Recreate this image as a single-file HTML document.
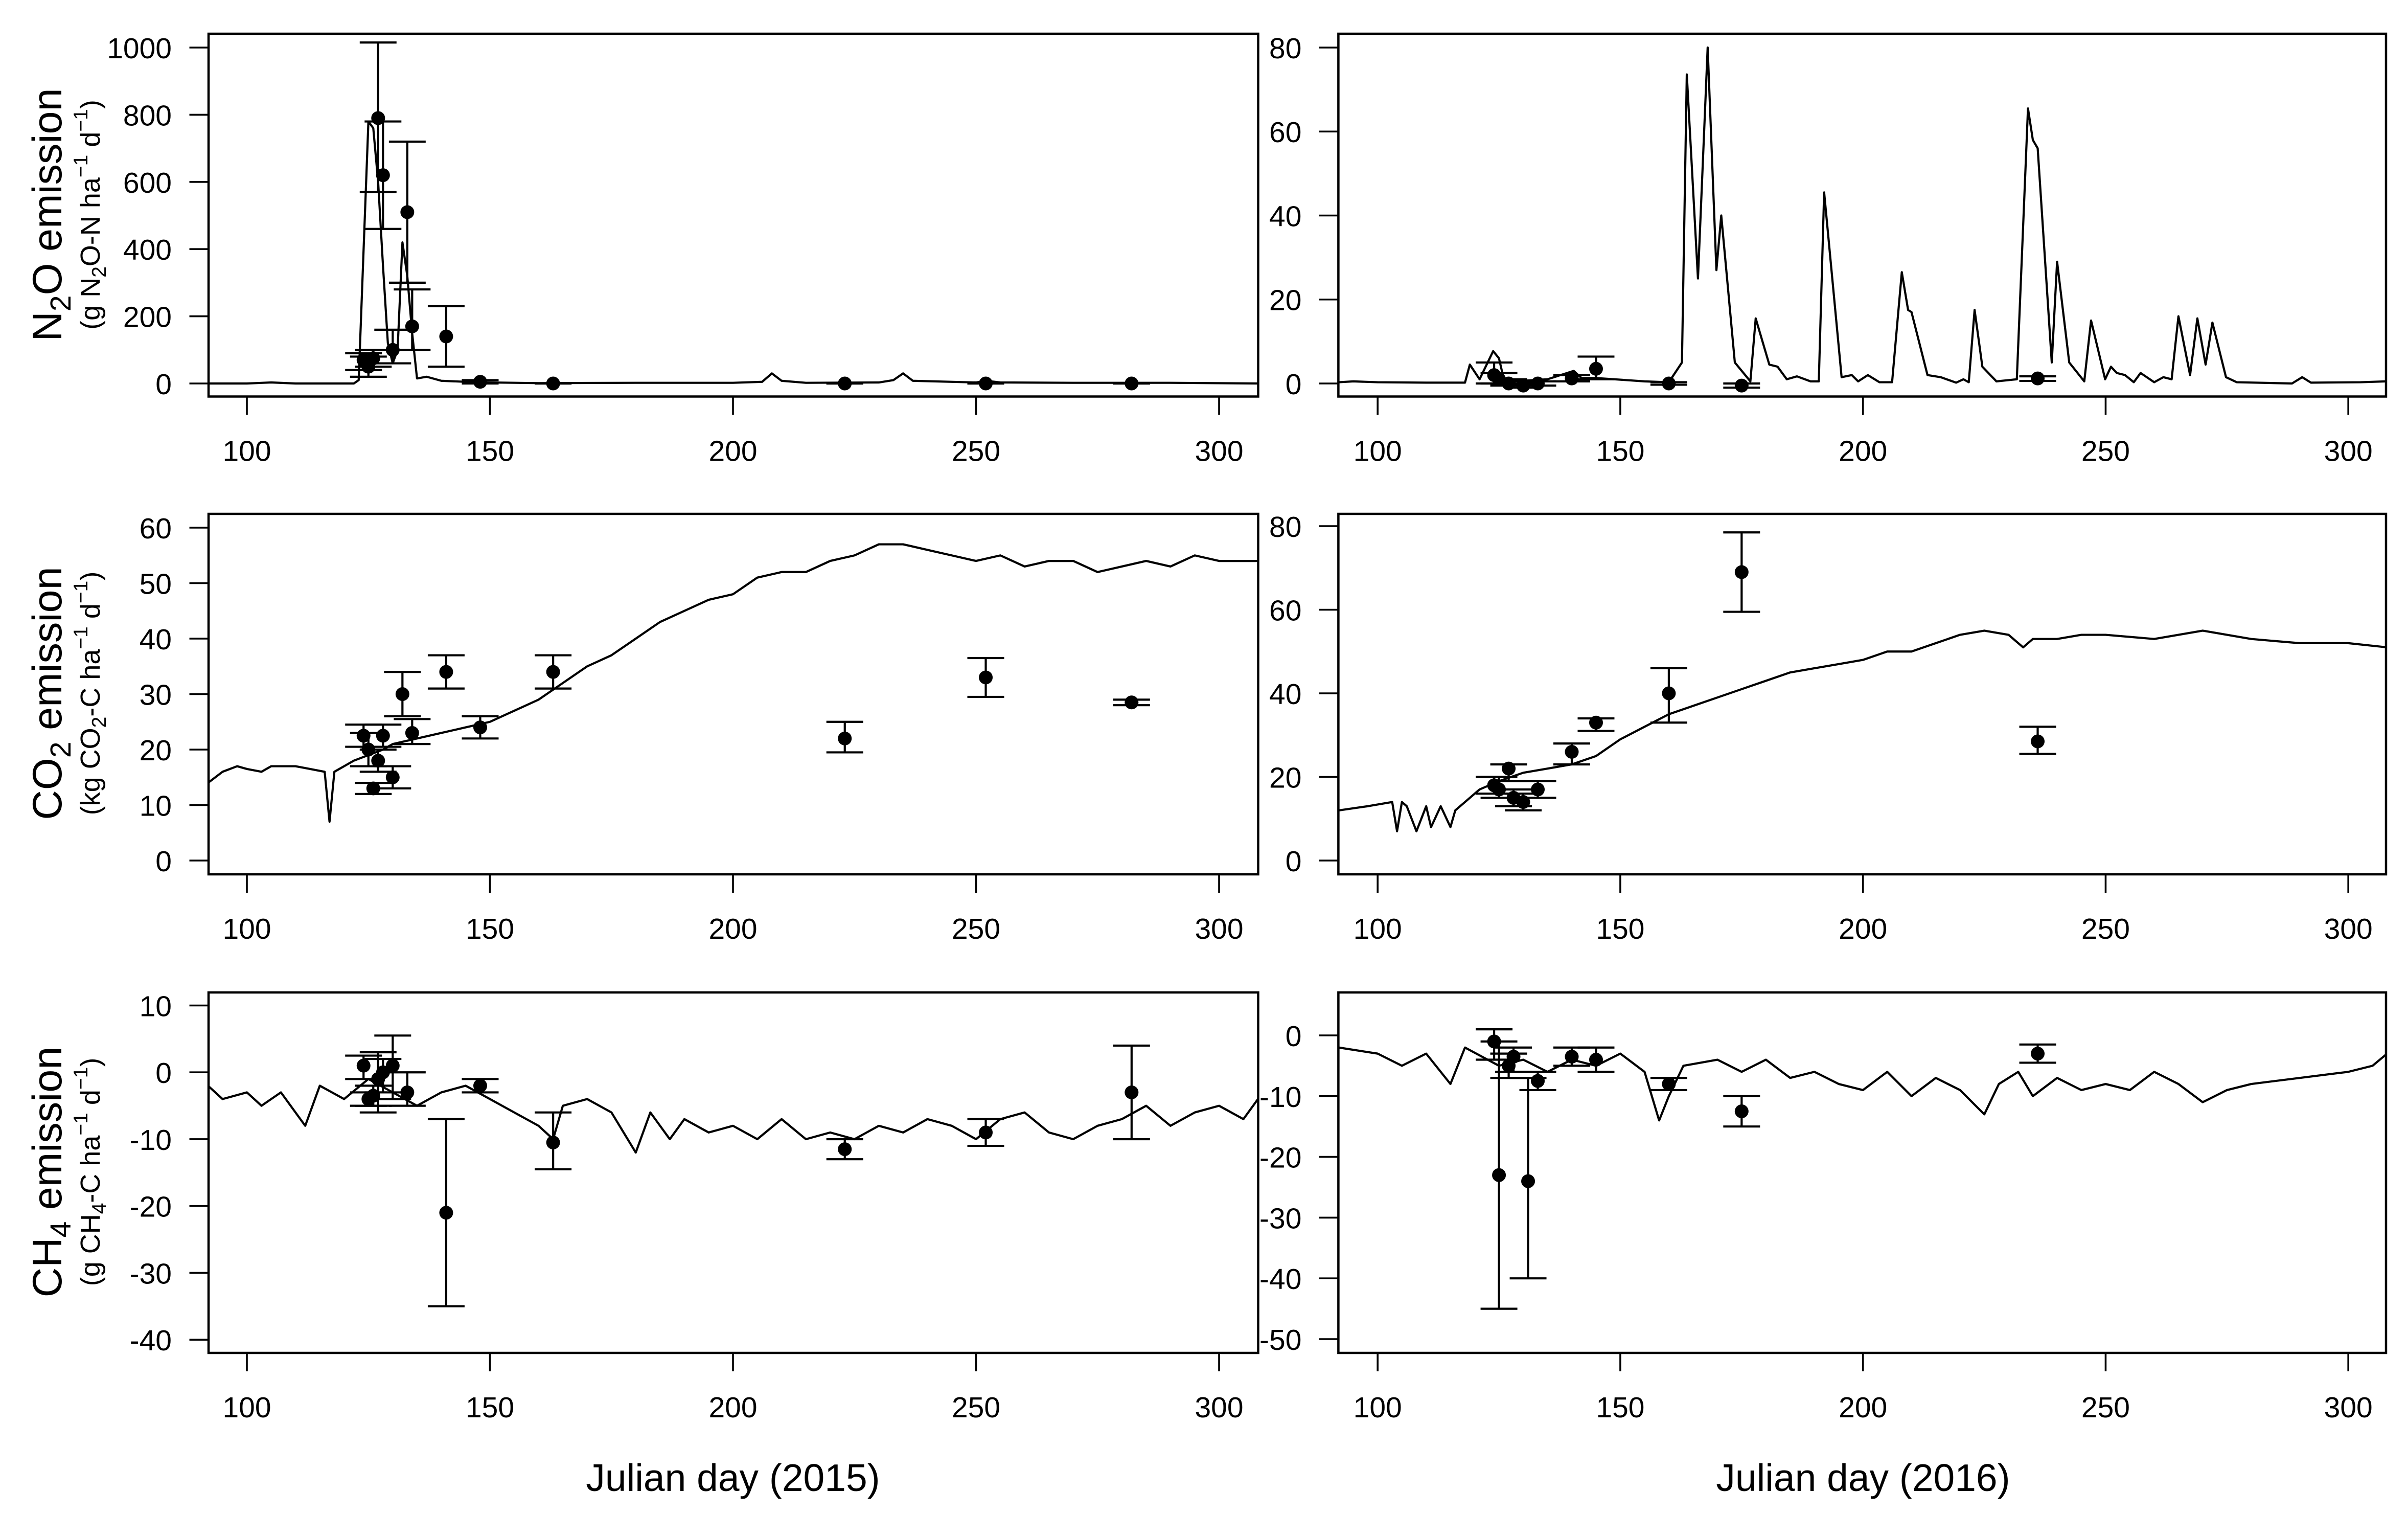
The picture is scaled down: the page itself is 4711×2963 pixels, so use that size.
<!DOCTYPE html>
<html><head><meta charset="utf-8"><style>
html,body{margin:0;padding:0;background:#fff;}
svg{display:block;font-family:"Liberation Sans",Arial,sans-serif;}
</style></head><body>
<svg id="chart" width="4711" height="2963" viewBox="0 0 1570.33 987.67" xmlns="http://www.w3.org/2000/svg">
<rect x="0" y="0" width="1570.33" height="987.67" fill="#fff"/>
<text x="478" y="972" font-size="25" text-anchor="middle">Julian day (2015)</text>
<text x="1215" y="972" font-size="25" text-anchor="middle">Julian day (2016)</text>
<g transform="translate(40,140) rotate(-90)"><text font-size="27" text-anchor="middle">N<tspan font-size="19" dy="6">2</tspan><tspan dy="-6">O emission</tspan></text><text y="25" font-size="18" text-anchor="middle">(g N<tspan font-size="13" dy="4">2</tspan><tspan dy="-4">O-N  ha</tspan><tspan font-size="13" dy="-8">−1</tspan><tspan dy="8">  d</tspan><tspan font-size="13" dy="-8">−1</tspan><tspan dy="8">)</tspan></text></g>
<g transform="translate(40,452) rotate(-90)"><text font-size="27" text-anchor="middle">CO<tspan font-size="19" dy="6">2</tspan><tspan dy="-6"> emission</tspan></text><text y="25" font-size="18" text-anchor="middle">(kg CO<tspan font-size="13" dy="4">2</tspan><tspan dy="-4">-C ha</tspan><tspan font-size="13" dy="-8">−1</tspan><tspan dy="8">  d</tspan><tspan font-size="13" dy="-8">−1</tspan><tspan dy="8">)</tspan></text></g>
<g transform="translate(40,764) rotate(-90)"><text font-size="27" text-anchor="middle">CH<tspan font-size="19" dy="6">4</tspan><tspan dy="-6"> emission</tspan></text><text y="25" font-size="18" text-anchor="middle">(g CH<tspan font-size="13" dy="4">4</tspan><tspan dy="-4">-C  ha</tspan><tspan font-size="13" dy="-8">−1</tspan><tspan dy="8">  d</tspan><tspan font-size="13" dy="-8">−1</tspan><tspan dy="8">)</tspan></text></g>
</svg>
<script>
// ---- data ----
const n2o2015Days=[92,100,105,110,122,123,125,126,127,128,129,130,131,132,133,134,135,137,140,145,150,160,180,200,206,208,210,215,230,233,235,237,250,252,255,270,290,308];
const n2o2015Vals=[0,0,3,0,0,10,780,760,600,350,120,60,100,420,320,150,15,20,8,5,3,1,2,2,5,30,8,2,3,10,30,8,3,8,3,2,2,0];
const n2o2016Days=[92,95,100,110,118,119,121,123.8,125,126,128,135,140.4,142,145,155,160,162.7,163.7,166,168,169.8,170.8,173.6,176.8,177.9,180.7,182.4,184.3,186.4,189.2,190.9,192,195.6,197.7,199,201,203.4,206,208,209.3,210,213.3,216,219.2,220.7,221.8,223,224.6,227.5,231.7,234,235,236,238.9,240,242.5,245.6,247,249.9,251.1,252.3,254,255.8,257.2,260,261.9,263.6,265,267.4,268.9,270.6,272,274.8,277,288.4,290.5,292.3,302.5,307.8];
const n2o2016Vals=[0.3,0.5,0.3,0.2,0.2,4.5,1,7.7,6,1,0.5,1,3,1.3,1.3,0.5,0.3,5,73.6,25,80,27,40,5,0.5,15.5,4.5,4,1,1.7,0.5,0.5,45.5,1.5,2,0.5,2,0.3,0.3,26.5,17.5,17,2,1.5,0.2,1,0.3,17.5,4,0.5,1,65.5,58,56,5,29,5,0.5,15,1,4,2.5,2,0.3,2.5,0.3,1.5,1,16,2,15.5,4.5,14.5,1.5,0.3,0,1.5,0.2,0.3,0.5];
const co22015Days=[92,95,98,100,103,105,110,113,116,117,118,120,122,125,128,130,135,140,145,150,155,160,165,170,175,180,185,190,195,200,205,210,215,220,225,230,235,240,245,250,255,260,265,270,275,280,285,290,295,300,305,308];
const co22015Vals=[14,16,17,16.5,16,17,17,16.5,16,7,16,17,18,19,20,21,22,23,24,25,27,29,32,35,37,40,43,45,47,48,51,52,52,54,55,57,57,56,55,54,55,53,54,54,52,53,54,53,55,54,54,54];
const co22016Days=[92,98,103,104,105,106,108,110,111,113,115,116,118,121,125,130,135,140,145,150,155,160,165,170,175,180,185,190,195,200,205,210,215,220,225,230,233,235,240,245,250,260,270,280,290,300,308];
const co22016Vals=[12,13,14,7,14,13,7,13,8,13,8,12,14,17,19,21,22,23,25,29,32,35,37,39,41,43,45,46,47,48,50,50,52,54,55,54,51,53,53,54,54,53,55,53,52,52,51];
const ch42015Days=[92,95,100,103,107,112,115,120,125,130,135,140,145,150,155,160,163,165,170,175,180,183,187,190,195,200,205,210,215,220,225,230,235,240,245,250,255,260,265,270,275,280,285,290,295,300,305,308];
const ch42015Vals=[-2,-4,-3,-5,-3,-8,-2,-4,-1,-3,-5,-3,-2,-4,-6,-8,-10,-5,-4,-6,-12,-6,-10,-7,-9,-8,-10,-7,-10,-9,-10,-8,-9,-7,-8,-10,-7,-6,-9,-10,-8,-7,-5,-8,-6,-5,-7,-4];
const ch42016Days=[92,100,105,110,115,118,125,130,135,140,145,150,155,158,160,163,170,175,180,185,190,195,200,205,210,215,220,225,228,232,235,240,245,250,255,260,265,270,275,280,290,300,305,308];
const ch42016Vals=[-2,-3,-5,-3,-8,-2,-5,-4,-6,-4,-5,-3,-6,-14,-10,-5,-4,-6,-4,-7,-6,-8,-9,-6,-10,-7,-9,-13,-8,-6,-10,-7,-9,-8,-9,-6,-8,-11,-9,-8,-7,-6,-5,-3];
// observations: day, mean, lower, upper
const obsN2o2015Day=[124,125,126,127,128,130,133,134,141,148,163,223,252,282];
const obsN2o2015Mean=[70,50,75,790,620,100,510,170,140,5,0,0,0,0];
const obsN2o2015Lo=[40,20,50,570,460,60,300,100,50,0,0,0,0,0];
const obsN2o2015Hi=[90,80,100,1015,780,160,720,280,230,10,0,0,0,0];
const obsN2o2016Day=[124,125,127,130,133,140,145,160,175,236];
const obsN2o2016Mean=[2,1,0,-0.5,0,1.2,3.5,0,-0.5,1.2];
const obsN2o2016Lo=[0,0,-0.5,-1,-0.5,0.5,1,-0.3,-1,0.6];
const obsN2o2016Hi=[5,2.5,1,0,0.5,2,6.4,0.3,0,1.7];
const obsCo22015Day=[124,125,126,127,128,130,132,134,141,148,163,223,252,282];
const obsCo22015Mean=[22.5,20,13,18,22.5,15,30,23,34,24,34,22,33,28.5];
const obsCo22015Lo=[20.5,17,12,16,20.5,13,26,21,31,22,31,19.5,29.5,28];
const obsCo22015Hi=[24.5,23,14,20,24.5,17,34,25.5,37,26,37,25,36.5,29];
const obsCo22016Day=[124,125,127,128,130,133,140,145,160,175,236];
const obsCo22016Mean=[18,17,22,15,14,17,26,33,40,69,28.5];
const obsCo22016Lo=[16,15,19,13,12,15,23,31,33,59.5,25.5];
const obsCo22016Hi=[20,20,23,17,16,19,28,34,46,78.5,32];
const obsCh42015Day=[124,125,126,127,128,130,133,141,148,163,223,252,282];
const obsCh42015Mean=[1,-4,-3.5,-1,0,1,-3,-21,-2,-10.5,-11.5,-9,-3];
const obsCh42015Lo=[-1,-5,-5,-6,-3,-4,-5,-35,-3,-14.5,-13,-11,-10];
const obsCh42015Hi=[2.5,-3,-2,3,2,5.5,0,-7,-1,-6,-10,-7,4];
const obsCh42016Day=[124,125,127,128,131,133,140,145,160,175,236];
const obsCh42016Mean=[-1,-23,-5,-3.5,-24,-7.5,-3.5,-4,-8,-12.5,-3];
const obsCh42016Lo=[-4,-45,-7,-6,-40,-9,-5,-6,-9,-15,-4.5];
const obsCh42016Hi=[1,-1,-3,-2,-7,-6,-2,-2,-7,-10,-1.5];
const xTicks=[100,150,200,250,300];
const yTicksN2o2015=[0,200,400,600,800,1000];
const yTicksN2o2016=[0,20,40,60,80];
const yTicksCo22015=[0,10,20,30,40,50,60];
const yTicksCo22016=[0,20,40,60,80];
const yTicksCh42015=[10,0,-10,-20,-30,-40];
const yTicksCh42016=[0,-10,-20,-30,-40,-50];

const NS='http://www.w3.org/2000/svg';
const svg=document.getElementById('chart');
function mk(tag,attrs,parent){const e=document.createElementNS(NS,tag);for(const k in attrs)e.setAttribute(k,attrs[k]);(parent||svg).appendChild(e);return e;}

const panels=[
 {id:'n2o-2015',x0:136,x1:820.5,y0:22,y1:258.5,dx0:100,px0:161,dx1:300,px1:795,v0:0,py0:250,v1:1000,py1:31,ticks:yTicksN2o2015,ld:n2o2015Days,lv:n2o2015Vals,od:obsN2o2015Day,om:obsN2o2015Mean,ol:obsN2o2015Lo,oh:obsN2o2015Hi},
 {id:'n2o-2016',x0:872.8,x1:1556,y0:22,y1:258.5,dx0:100,px0:898.4,dx1:300,px1:1531.4,v0:0,py0:250,v1:80,py1:31,ticks:yTicksN2o2016,ld:n2o2016Days,lv:n2o2016Vals,od:obsN2o2016Day,om:obsN2o2016Mean,ol:obsN2o2016Lo,oh:obsN2o2016Hi},
 {id:'co2-2015',x0:136,x1:820.5,y0:335,y1:570,dx0:100,px0:161,dx1:300,px1:795,v0:0,py0:561,v1:60,py1:344,ticks:yTicksCo22015,ld:co22015Days,lv:co22015Vals,od:obsCo22015Day,om:obsCo22015Mean,ol:obsCo22015Lo,oh:obsCo22015Hi},
 {id:'co2-2016',x0:872.8,x1:1556,y0:335,y1:570,dx0:100,px0:898.4,dx1:300,px1:1531.4,v0:0,py0:561,v1:80,py1:343,ticks:yTicksCo22016,ld:co22016Days,lv:co22016Vals,od:obsCo22016Day,om:obsCo22016Mean,ol:obsCo22016Lo,oh:obsCo22016Hi},
 {id:'ch4-2015',x0:136,x1:820.5,y0:647,y1:882,dx0:100,px0:161,dx1:300,px1:795,v0:10,py0:655.5,v1:-40,py1:873.4,ticks:yTicksCh42015,ld:ch42015Days,lv:ch42015Vals,od:obsCh42015Day,om:obsCh42015Mean,ol:obsCh42015Lo,oh:obsCh42015Hi},
 {id:'ch4-2016',x0:872.8,x1:1556,y0:647,y1:882,dx0:100,px0:898.4,dx1:300,px1:1531.4,v0:0,py0:675,v1:-50,py1:873,ticks:yTicksCh42016,ld:ch42016Days,lv:ch42016Vals,od:obsCh42016Day,om:obsCh42016Mean,ol:obsCh42016Lo,oh:obsCh42016Hi}
];

panels.forEach(p=>{
 const X=d=>p.px0+(d-p.dx0)*(p.px1-p.px0)/(p.dx1-p.dx0);
 const Y=v=>p.py0+(v-p.v0)*(p.py1-p.py0)/(p.v1-p.v0);
 const g=mk('g',{});
 
 
 const cp=mk('clipPath',{id:'clip-'+p.id},g);
 mk('rect',{x:p.x0,y:p.y0,width:p.x1-p.x0,height:p.y1-p.y0},cp);
 // model line
 const d=p.ld.map((dd,i)=>(i?'L':'M')+X(dd).toFixed(2)+','+Y(p.lv[i]).toFixed(2)).join(' ');
 const line=mk('path',{d:d,fill:'none',stroke:'#000','stroke-width':1.4,'stroke-linejoin':'round','clip-path':'url(#clip-'+p.id+')'},g);
 
 
 // observations
 p.od.forEach((dd,i)=>{
  const og=mk('g',{stroke:'#000','stroke-width':1.4,fill:'#000'},g);
  
  
  const x=X(dd),lo=Y(p.ol[i]),hi=Y(p.oh[i]);
  mk('line',{x1:x,x2:x,y1:lo,y2:hi},og);
  mk('line',{x1:x-12,x2:x+12,y1:lo,y2:lo},og);
  mk('line',{x1:x-12,x2:x+12,y1:hi,y2:hi},og);
  mk('circle',{cx:x,cy:Y(p.om[i]),r:4.5,stroke:'none'},og);
 });
 // box
 const box=mk('rect',{x:p.x0,y:p.y0,width:p.x1-p.x0,height:p.y1-p.y0,fill:'none',stroke:'#000','stroke-width':1.5},g);
 
 
 // x axis
 const xa=mk('g',{},g);
 
 
 xTicks.forEach(t=>{
  const x=X(t);
  mk('line',{x1:x,x2:x,y1:p.y1,y2:p.y1+12,stroke:'#000','stroke-width':1.2},xa);
  const tx=mk('text',{x:x,y:p.y1+42,'font-size':19,'text-anchor':'middle'},xa);
  
  
  tx.textContent=t;
 });
 // y axis
 const ya=mk('g',{},g);
 
 
 p.ticks.forEach(t=>{
  const y=Y(t);
  mk('line',{x1:p.x0-12.5,x2:p.x0,y1:y,y2:y,stroke:'#000','stroke-width':1.2},ya);
  const ty=mk('text',{x:p.x0-24,y:y+7,'font-size':19,'text-anchor':'end'},ya);
  
  
  ty.textContent=t<0?'-'+(-t):String(t);
 });
});
</script>
</body></html>
